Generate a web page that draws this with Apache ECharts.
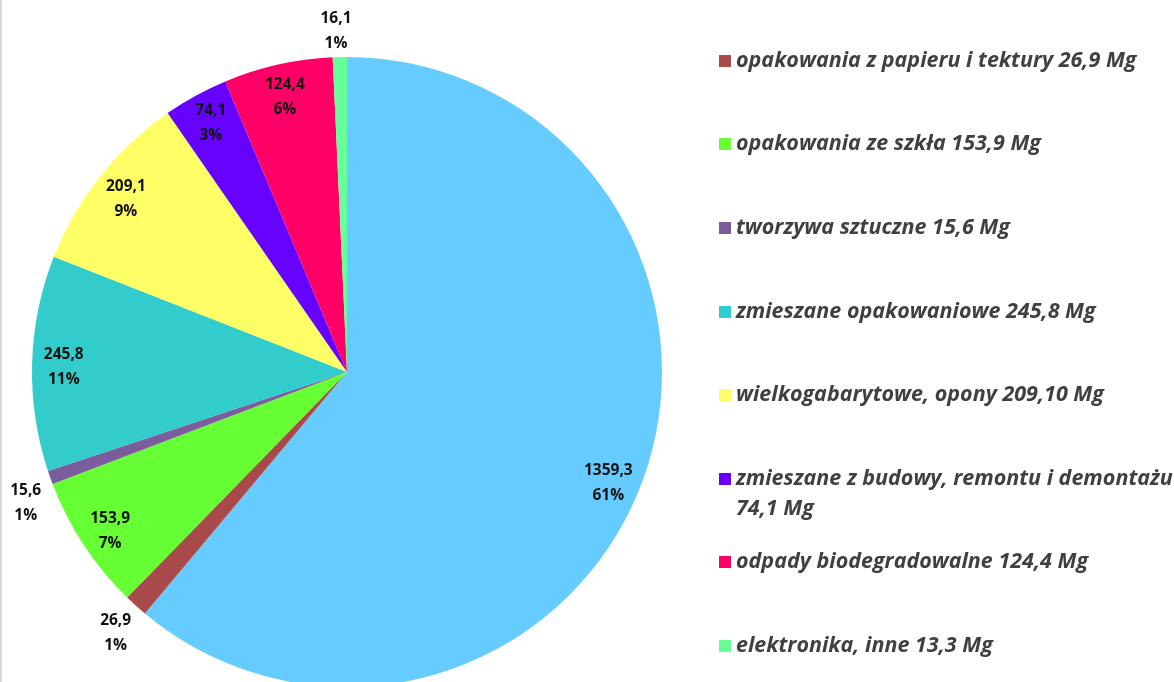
<!DOCTYPE html>
<html>
<head>
<meta charset="utf-8">
<script src="https://cdn.jsdelivr.net/npm/echarts@6/dist/echarts.min.js"></script>
<style>
html,body{margin:0;padding:0;background:#fff;}
#c{width:1174px;height:682px;}
</style>
</head>
<body>
<div id="c"></div>
<script>
// Data (clockwise from 12 o'clock)
const sliceNames = [
  'niesegregowane',
  'opakowania z papieru i tektury 26,9 Mg',
  'opakowania ze szkła 153,9 Mg',
  'tworzywa sztuczne 15,6 Mg',
  'zmieszane opakowaniowe 245,8 Mg',
  'wielkogabarytowe, opony 209,10 Mg',
  'zmieszane z budowy, remontu i demontażu\n74,1 Mg',
  'odpady biodegradowalne 124,4 Mg',
  'elektronika, inne 13,3 Mg'
];
const sliceValues = [1359.3, 26.9, 153.9, 15.6, 245.8, 209.1, 74.1, 124.4, 16.1];
const sliceColors = ['#66CCFF', '#A94A4A', '#66FF33', '#7B5C9C', '#33CCCC', '#FFFF66', '#6600FF', '#FF0066', '#66FF99'];
const outsideLabel = [false, true, false, true, false, false, false, false, true];
const legendNames = sliceNames.slice(1);

// layout
const CX = 347, CY = 372, R = 315;
const labelOffsets = { 0: [-5, 14], 1: [5, -1], 3: [11, 13], 8: [-3, 12], 2: [0, 4], 4: [0, 3], 5: [1, 3], 7: [0, 2] };
const legendCenters = [56, 139, 223, 307, 390, 474, 557, 641];

function fmt(v) { return String(v).replace('.', ','); }

const mainData = sliceValues.map((v, i) => ({
  name: sliceNames[i], value: v, itemStyle: { color: sliceColors[i] }
}));

function labelData(showOutside) {
  return sliceValues.map((v, i) => ({
    name: 'lbl' + i, value: v,
    itemStyle: { color: 'rgba(0,0,0,0)' },
    label: { show: outsideLabel[i] === showOutside, offset: labelOffsets[i] || [0, 0] }
  }));
}

const labelStyle = {
  position: 'inside',
  fontFamily: 'Open Sans',
  fontWeight: 'bold',
  fontSize: 15.5,
  lineHeight: 25,
  color: '#111',
  textBorderWidth: 0,
  formatter: p => fmt(p.value) + '\n' + Math.round(p.percent) + '%'
};

const legends = legendNames.map((n, i) => {
  const wrapped = n.indexOf('\n') >= 0;
  return {
    data: [n],
    left: 714,
    top: legendCenters[i] - (wrapped ? 45 : 15),
    orient: 'vertical',
    selectedMode: false,
    itemWidth: 12,
    itemHeight: 12,
    itemGap: 0,
    icon: 'rect',
    itemStyle: { color: sliceColors[i + 1] },
    textStyle: {
      fontFamily: 'Open Sans',
      fontWeight: 'bold',
      fontStyle: 'italic',
      fontSize: 21.5,
      lineHeight: 30,
      color: '#404040'
    },
    formatter: name => (name.indexOf('\n') >= 0 ? '\n' + name : name)
  };
});

const option = {
  animation: false,
  backgroundColor: '#fff',
  legend: legends,
  graphic: [{
    type: 'rect', left: 0, top: 0,
    shape: { width: 2, height: 682 },
    style: { fill: '#d9d9d9' }, silent: true
  }],
  series: [
    {
      type: 'pie', center: [CX, CY], radius: [0, R],
      startAngle: 90, clockwise: true, avoidLabelOverlap: false,
      label: { show: false }, labelLine: { show: false },
      itemStyle: { borderWidth: 0 },
      emphasis: { disabled: true },
      data: mainData
    },
    {
      type: 'pie', center: [CX, CY], radius: [R * 0.78, R],
      startAngle: 90, clockwise: true, avoidLabelOverlap: false,
      silent: true, percentPrecision: 2,
      label: labelStyle, labelLine: { show: false },
      emphasis: { disabled: true },
      data: labelData(false)
    },
    {
      type: 'pie', center: [CX, CY], radius: [R, R * 1.22],
      startAngle: 90, clockwise: true, avoidLabelOverlap: false,
      silent: true, percentPrecision: 2,
      label: labelStyle, labelLine: { show: false },
      emphasis: { disabled: true },
      data: labelData(true)
    }
  ]
};

const chart = echarts.init(document.getElementById('c'), null, { renderer: 'canvas' });
chart.setOption(option);
</script>
</body>
</html>
